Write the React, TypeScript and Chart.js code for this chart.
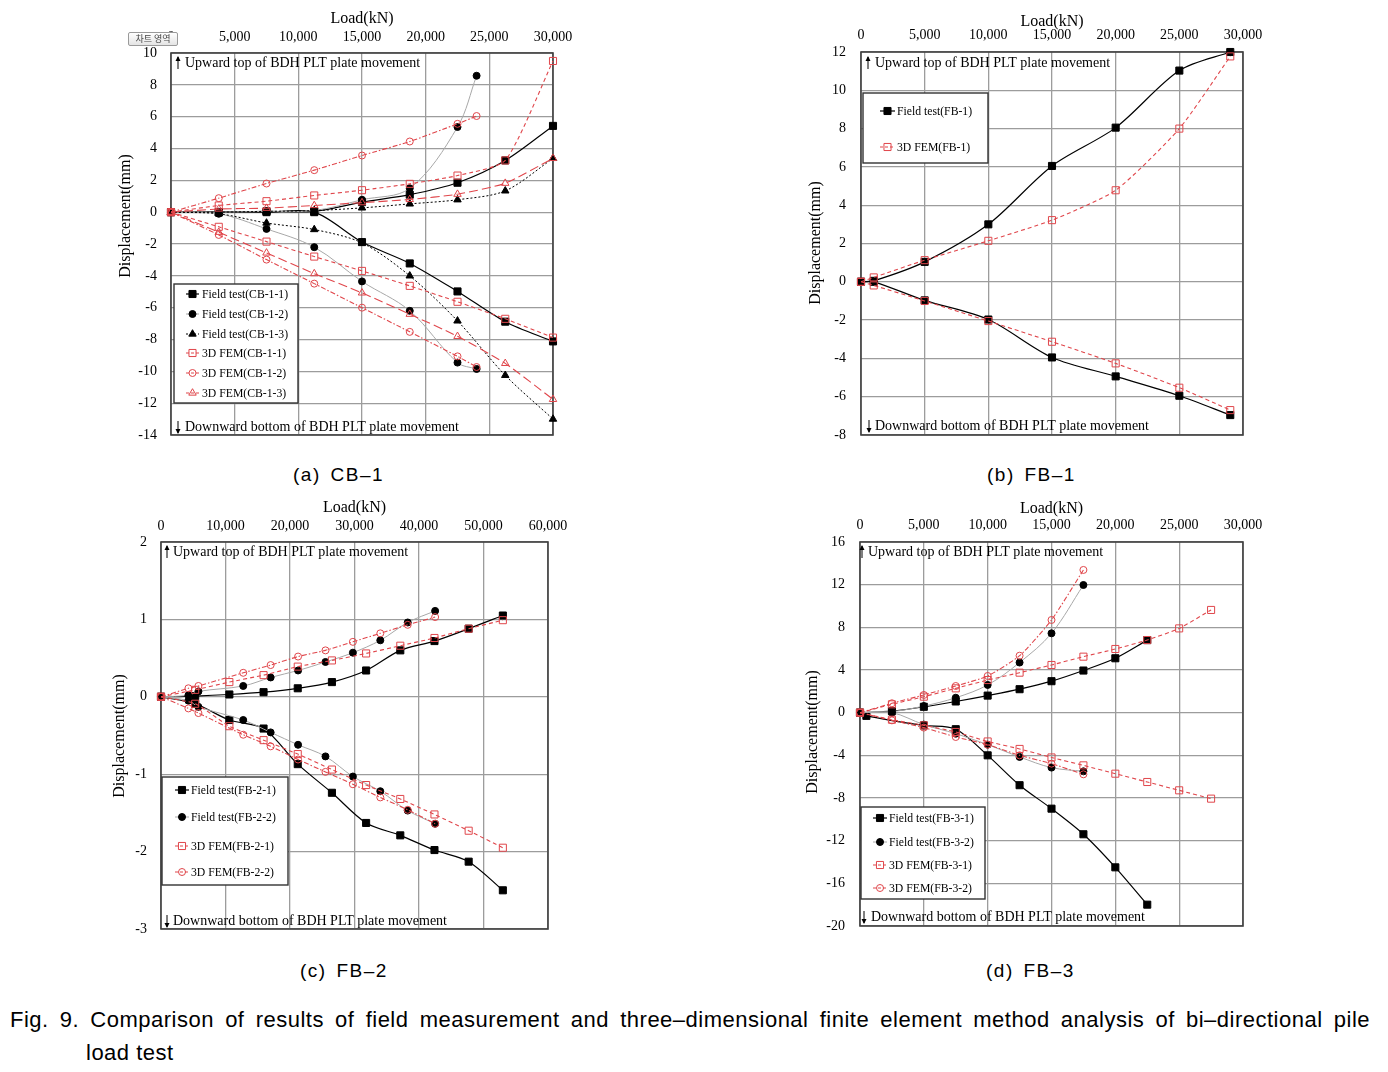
import React, { useEffect, useRef } from 'react';
import { Chart, registerables } from 'chart.js';

Chart.register(...registerables);

const SERIF = "'Liberation Serif', 'Times New Roman', serif";
const SANS = "'Liberation Sans', Arial, sans-serif";
const RED = '#e0464b';

// ---------- (a) CB-1 ----------
const loadA = [0, 3750, 7500, 11250, 15000, 18750, 22500, 26250, 30000];
const loadA2 = [0, 3750, 7500, 11250, 15000, 18750, 22500, 24000];
const cb11Up = [0, 0, 0.05, 0.05, 0.63, 1.1, 1.85, 3.25, 5.42];
const cb11Down = [0, 0, 0, 0, -1.88, -3.22, -4.98, -6.88, -8.12];
const cb12Up = [0, 0, 0.05, 0.1, 0.78, 1.5, 5.35, 8.57];
const cb12Down = [0, -0.1, -1.05, -2.2, -4.35, -6.2, -9.45, -9.85];
const cb13Up = [0, 0, 0.05, 0.1, 0.27, 0.52, 0.78, 1.34, 3.38];
const cb13Down = [0, -0.1, -0.68, -1.09, -1.93, -4.0, -6.83, -10.25, -13.0];
const femA1Up = [0, 0.42, 0.69, 1.05, 1.38, 1.78, 2.3, 3.25, 9.5];
const femA1Down = [0, -0.92, -1.85, -2.79, -3.69, -4.63, -5.63, -6.7, -7.88];
const femA2Up = [0, 0.88, 1.8, 2.64, 3.56, 4.44, 5.55, 6.04];
const femA2Down = [0, -1.43, -2.98, -4.49, -6.0, -7.52, -9.06, -9.73];
const femA3Up = [0, 0.2, 0.25, 0.42, 0.6, 0.8, 1.13, 1.82, 3.38];
const femA3Down = [0, -1.26, -2.56, -3.86, -5.07, -6.41, -7.8, -9.5, -11.76];

// ---------- (b) FB-1 ----------
const loadB = [0, 1000, 5000, 10000, 15000, 20000, 25000, 29000];
const fb1Up = [0, 0.05, 1.04, 3.0, 6.05, 8.05, 11.03, 12.0];
const fb1Down = [0, 0, -0.97, -1.97, -3.95, -4.94, -5.95, -6.96];
const femB1Up = [0, 0.23, 1.13, 2.14, 3.22, 4.78, 8.0, 11.77];
const femB1Down = [0, -0.19, -1.0, -2.05, -3.13, -4.26, -5.53, -6.7];

// ---------- (c) FB-2 ----------
const loadC1 = [0, 5300, 10600, 15900, 21200, 26500, 31800, 37100, 42400, 47700, 53000];
const loadC2 = [0, 4250, 5800, 12750, 17000, 21250, 25500, 29750, 34000, 38250, 42500];
const fb21Up = [0, 0.01, 0.03, 0.06, 0.11, 0.19, 0.34, 0.6, 0.72, 0.88, 1.05];
const fb21Down = [0, -0.09, -0.3, -0.41, -0.87, -1.24, -1.63, -1.79, -1.98, -2.13, -2.5];
const fb22Up = [0, 0.02, 0.07, 0.14, 0.25, 0.34, 0.45, 0.57, 0.73, 0.96, 1.11];
const fb22Down = [0, -0.05, -0.13, -0.3, -0.46, -0.62, -0.77, -1.03, -1.22, -1.47, -1.64];
const femC1Up = [0, 0.09, 0.19, 0.28, 0.39, 0.47, 0.56, 0.66, 0.76, 0.88, 0.99];
const femC1Down = [0, -0.09, -0.38, -0.56, -0.74, -0.94, -1.14, -1.32, -1.52, -1.73, -1.95];
const femC2Up = [0, 0.11, 0.14, 0.31, 0.41, 0.52, 0.6, 0.71, 0.82, 0.93, 1.03];
const femC2Down = [0, -0.15, -0.21, -0.49, -0.64, -0.81, -0.97, -1.13, -1.3, -1.46, -1.64];

// ---------- (d) FB-3 ----------
const loadD1 = [0, 2500, 5000, 7500, 10000, 12500, 15000, 17500, 20000, 22500];
const loadD1Down = [0, 500, 5000, 7500, 10000, 12500, 15000, 17500, 20000, 22500];
const loadD2 = [0, 2500, 5000, 7500, 10000, 12500, 15000, 17500];
const loadD3 = [0, 2500, 5000, 7500, 10000, 12500, 15000, 17500, 20000, 22500, 25000, 27500];
const fb31Up = [0, 0.15, 0.55, 1.05, 1.6, 2.2, 2.95, 3.95, 5.1, 6.8];
const fb31Down = [0, -0.3, -1.2, -1.55, -4.0, -6.8, -9.0, -11.4, -14.5, -18.0];
const fb32Up = [0, 0.1, 0.62, 1.4, 2.6, 4.7, 7.44, 11.97];
const fb32Down = [0, 0, -1.12, -1.97, -3.0, -4.15, -5.15, -5.5];
const femD1Up = [0, 0.78, 1.5, 2.28, 3.06, 3.75, 4.47, 5.25, 5.97, 6.81, 7.9, 9.63];
const femD1Down = [0, -0.66, -1.19, -1.81, -2.7, -3.4, -4.2, -4.94, -5.72, -6.5, -7.28, -8.06];
const femD2Up = [0, 0.88, 1.66, 2.5, 3.44, 5.34, 8.69, 13.38];
const femD2Down = [0, -0.72, -1.4, -2.28, -3.0, -4.0, -4.78, -5.78];

type Kind = 'f1' | 'f2' | 'f3' | 'm1' | 'm2' | 'm3';

const STYLES: Record<Kind, any> = {
  f1: { line: '#000000', width: 1.2, dash: [], point: 'rect', r: 5, fill: '#000000', stroke: '#000000', tension: 0.3 },
  f2: { line: '#a8a8a8', width: 1, dash: [], point: 'circle', r: 3.5, fill: '#000000', stroke: '#000000', tension: 0.35 },
  f3: { line: '#000000', width: 1, dash: [2, 2], point: 'triangle', r: 4.3, fill: '#000000', stroke: '#000000', tension: 0.3 },
  m1: { line: RED, width: 1.1, dash: [4, 3], point: 'rect', r: 5, fill: 'rgba(255,255,255,0)', stroke: RED, tension: 0.2 },
  m2: { line: RED, width: 1.1, dash: [5, 2, 1.5, 2], point: 'circle', r: 3.5, fill: 'rgba(255,255,255,0)', stroke: RED, tension: 0.2 },
  m3: { line: RED, width: 1.1, dash: [9, 4], point: 'triangle', r: 4.3, fill: 'rgba(255,255,255,0)', stroke: RED, tension: 0.2 },
};

interface Ser { label: string; kind: Kind; xUp: number[]; up: number[]; xDown: number[]; down: number[] }

const panels: any[] = [
  {
    key: 'a',
    canvas: { left: 95, top: 0, w: 490, h: 450 },
    area: { l: 171, t: 53, r: 553, b: 435 },
    x: { max: 30000, step: 5000, tickPad: 7.5, titlePad: 9.4 },
    y: { min: -14, max: 10, step: 2, tickPad: 14 },
    yTitle: { x: 126, y: 216 },
    up: { ax: 178, tx: 185, y: 63 },
    down: { ax: 178, tx: 185, y: 427 },
    legend: { l: 174, t: 284, r: 298, b: 403, rows: [294, 314, 334, 353, 373, 393], s0: 186, s1: 199, m: 192.5, tx: 202 },
    series: [
      { label: 'Field test(CB-1-1)', kind: 'f1', xUp: loadA, up: cb11Up, xDown: loadA, down: cb11Down },
      { label: 'Field test(CB-1-2)', kind: 'f2', xUp: loadA2, up: cb12Up, xDown: loadA2, down: cb12Down },
      { label: 'Field test(CB-1-3)', kind: 'f3', xUp: loadA, up: cb13Up, xDown: loadA, down: cb13Down },
      { label: '3D FEM(CB-1-1)', kind: 'm1', xUp: loadA, up: femA1Up, xDown: loadA, down: femA1Down },
      { label: '3D FEM(CB-1-2)', kind: 'm2', xUp: loadA2, up: femA2Up, xDown: loadA2, down: femA2Down },
      { label: '3D FEM(CB-1-3)', kind: 'm3', xUp: loadA, up: femA3Up, xDown: loadA, down: femA3Down },
    ] as Ser[],
  },
  {
    key: 'b',
    canvas: { left: 790, top: 0, w: 485, h: 450 },
    area: { l: 861, t: 52, r: 1243, b: 435 },
    x: { max: 30000, step: 5000, tickPad: 8.5, titlePad: 12.4 },
    y: { min: -8, max: 12, step: 2, tickPad: 15 },
    yTitle: { x: 816, y: 243 },
    up: { ax: 868, tx: 875, y: 63 },
    down: { ax: 869, tx: 875, y: 426 },
    legend: { l: 863, t: 93, r: 988, b: 163, rows: [111, 147], s0: 880, s1: 895, m: 887.5, tx: 897 },
    series: [
      { label: 'Field test(FB-1)', kind: 'f1', xUp: loadB, up: fb1Up, xDown: loadB, down: fb1Down },
      { label: '3D FEM(FB-1)', kind: 'm1', xUp: loadB, up: femB1Up, xDown: loadB, down: femB1Down },
    ] as Ser[],
  },
  {
    key: 'c',
    canvas: { left: 95, top: 490, w: 490, h: 450 },
    area: { l: 161, t: 542, r: 548, b: 929 },
    x: { max: 60000, step: 10000, tickPad: 7.5, titlePad: 8.4 },
    y: { min: -3, max: 2, step: 1, tickPad: 14 },
    yTitle: { x: 120, y: 736 },
    up: { ax: 167, tx: 173, y: 552 },
    down: { ax: 167, tx: 173, y: 921 },
    legend: { l: 162, t: 777, r: 288, b: 885, rows: [790, 817, 846, 872], s0: 175, s1: 189, m: 182, tx: 191 },
    series: [
      { label: 'Field test(FB-2-1)', kind: 'f1', xUp: loadC1, up: fb21Up, xDown: loadC1, down: fb21Down },
      { label: 'Field test(FB-2-2)', kind: 'f2', xUp: loadC2, up: fb22Up, xDown: loadC2, down: fb22Down },
      { label: '3D FEM(FB-2-1)', kind: 'm1', xUp: loadC1, up: femC1Up, xDown: loadC1, down: femC1Down },
      { label: '3D FEM(FB-2-2)', kind: 'm2', xUp: loadC2, up: femC2Up, xDown: loadC2, down: femC2Down },
    ] as Ser[],
  },
  {
    key: 'd',
    canvas: { left: 790, top: 490, w: 485, h: 450 },
    area: { l: 860, t: 542, r: 1243, b: 926 },
    x: { max: 30000, step: 5000, tickPad: 8.5, titlePad: 9.4 },
    y: { min: -20, max: 16, step: 4, tickPad: 15 },
    yTitle: { x: 813, y: 732 },
    up: { ax: 862, tx: 868, y: 552 },
    down: { ax: 864, tx: 871, y: 917 },
    legend: { l: 861, t: 807, r: 985, b: 899, rows: [818, 842, 865, 888], s0: 873, s1: 887, m: 880, tx: 889 },
    series: [
      { label: 'Field test(FB-3-1)', kind: 'f1', xUp: loadD1, up: fb31Up, xDown: loadD1Down, down: fb31Down },
      { label: 'Field test(FB-3-2)', kind: 'f2', xUp: loadD2, up: fb32Up, xDown: loadD2, down: fb32Down },
      { label: '3D FEM(FB-3-1)', kind: 'm1', xUp: loadD3, up: femD1Up, xDown: loadD3, down: femD1Down },
      { label: '3D FEM(FB-3-2)', kind: 'm2', xUp: loadD2, up: femD2Up, xDown: loadD2, down: femD2Down },
    ] as Ser[],
  },
];

function drawMarker(ctx: CanvasRenderingContext2D, st: any, x: number, y: number) {
  const r = st.r;
  ctx.beginPath();
  if (st.point === 'rect') {
    const s = Math.SQRT1_2 * r;
    ctx.rect(x - s, y - s, 2 * s, 2 * s);
  } else if (st.point === 'circle') {
    ctx.arc(x, y, r, 0, Math.PI * 2);
  } else {
    let rad = 0;
    ctx.moveTo(x + Math.sin(rad) * r, y - Math.cos(rad) * r);
    rad += (2 * Math.PI) / 3;
    ctx.lineTo(x + Math.sin(rad) * r, y - Math.cos(rad) * r);
    rad += (2 * Math.PI) / 3;
    ctx.lineTo(x + Math.sin(rad) * r, y - Math.cos(rad) * r);
    ctx.closePath();
  }
  ctx.fillStyle = st.fill;
  ctx.fill();
  ctx.lineWidth = 1;
  ctx.setLineDash([]);
  ctx.strokeStyle = st.stroke;
  ctx.stroke();
}

function drawArrow(ctx: CanvasRenderingContext2D, x: number, y: number, up: boolean) {
  ctx.save();
  ctx.strokeStyle = '#000';
  ctx.fillStyle = '#000';
  ctx.lineWidth = 1;
  ctx.beginPath();
  ctx.moveTo(x, y - 6);
  ctx.lineTo(x, y + 6);
  ctx.stroke();
  ctx.beginPath();
  if (up) {
    ctx.moveTo(x, y - 7);
    ctx.lineTo(x - 2.5, y - 2);
    ctx.lineTo(x + 2.5, y - 2);
  } else {
    ctx.moveTo(x, y + 7);
    ctx.lineTo(x - 2.5, y + 2);
    ctx.lineTo(x + 2.5, y + 2);
  }
  ctx.closePath();
  ctx.fill();
  ctx.restore();
}

function makeDeco(p: any) {
  const ox = p.canvas.left;
  const oy = p.canvas.top;
  return {
    id: 'deco_' + p.key,
    beforeDatasetsDraw(chart: any) {
      const { ctx, chartArea: a } = chart;
      ctx.save();
      ctx.strokeStyle = '#404040';
      ctx.lineWidth = 1.6;
      ctx.strokeRect(a.left, a.top, a.right - a.left, a.bottom - a.top);
      ctx.fillStyle = '#000';
      ctx.font = `14px ${SERIF}`;
      ctx.textBaseline = 'middle';
      ctx.textAlign = 'left';
      drawArrow(ctx, p.up.ax - ox, p.up.y - oy, true);
      ctx.fillText('Upward top of BDH PLT plate movement', p.up.tx - ox, p.up.y - oy + 0.5);
      drawArrow(ctx, p.down.ax - ox, p.down.y - oy, false);
      ctx.fillText('Downward bottom of BDH PLT plate movement', p.down.tx - ox, p.down.y - oy + 0.5);
      ctx.restore();
    },
    afterDatasetsDraw(chart: any) {
      const { ctx } = chart;
      const L = p.legend;
      ctx.save();
      ctx.fillStyle = '#ffffff';
      ctx.fillRect(L.l - ox, L.t - oy, L.r - L.l, L.b - L.t);
      ctx.strokeStyle = '#333333';
      ctx.lineWidth = 1.4;
      ctx.strokeRect(L.l - ox, L.t - oy, L.r - L.l, L.b - L.t);
      p.series.forEach((s: Ser, i: number) => {
        const st = STYLES[s.kind];
        const y = L.rows[i] - oy;
        ctx.beginPath();
        ctx.strokeStyle = st.line;
        ctx.lineWidth = st.width;
        ctx.setLineDash(st.dash.length ? [Math.min(st.dash[0], 3), 2] : []);
        ctx.moveTo(L.s0 - ox, y);
        ctx.lineTo(L.s1 - ox, y);
        ctx.stroke();
        drawMarker(ctx, st, L.m - ox, y);
        ctx.save();
        ctx.translate(L.tx - ox, y + 0.5);
        ctx.scale(0.9, 1);
        ctx.fillStyle = '#000';
        ctx.font = `13px ${SERIF}`;
        ctx.textBaseline = 'middle';
        ctx.textAlign = 'left';
        ctx.fillText(s.label, 0, 0);
        ctx.restore();
      });
      ctx.restore();
    },
    afterDraw(chart: any) {
      const { ctx } = chart;
      ctx.save();
      ctx.translate(p.yTitle.x - ox, p.yTitle.y - oy);
      ctx.rotate(-Math.PI / 2);
      ctx.fillStyle = '#000';
      ctx.font = `16px ${SERIF}`;
      ctx.textAlign = 'center';
      ctx.textBaseline = 'middle';
      ctx.fillText('Displacement(mm)', 0, 0);
      ctx.restore();
    },
  };
}

function buildDatasets(series: Ser[]) {
  const ds: any[] = [];
  const ordered = [...series].reverse();
  for (const s of ordered) {
    const st = STYLES[s.kind];
    const branches: [number[], number[]][] = [[s.xUp, s.up], [s.xDown, s.down]];
    for (const [xs, ys] of branches) {
      ds.push({
        label: s.label,
        data: ys.map((y, i) => ({ x: xs[i], y })),
        borderColor: st.line,
        borderWidth: st.width,
        borderDash: st.dash,
        pointStyle: st.point,
        pointRadius: st.r,
        pointBackgroundColor: st.fill,
        pointBorderColor: st.stroke,
        pointBorderWidth: 1,
        tension: st.tension,
        fill: false,
        clip: false,
      });
    }
  }
  return ds;
}

function PanelChart({ p }: { p: any }) {
  const ref = useRef<HTMLCanvasElement | null>(null);
  useEffect(() => {
    if (!ref.current) return;
    const c = p.canvas;
    const a = p.area;
    const yWidth = a.l - c.left;
    const xHeight = a.t - c.top;
    const padRight = c.left + c.w - a.r;
    const padBottom = c.top + c.h - a.b;
    const chart = new Chart(ref.current, {
      type: 'line',
      data: { datasets: buildDatasets(p.series) },
      options: {
        responsive: false,
        animation: false,
        devicePixelRatio: 1,
        layout: { padding: { left: 0, top: 0, right: padRight, bottom: padBottom }, autoPadding: false },
        plugins: { legend: { display: false }, tooltip: { enabled: false } },
        font: { family: SERIF },
        scales: {
          x: {
            type: 'linear',
            position: 'top',
            min: 0,
            max: p.x.max,
            afterBuildTicks: (scale: any) => {
              const t = [];
              for (let v = 0; v <= p.x.max; v += p.x.step) t.push({ value: v });
              scale.ticks = t;
            },
            grid: { color: '#9c9c9c', lineWidth: 1.3, drawTicks: false },
            border: { display: false },
            ticks: {
              padding: p.x.tickPad,
              maxRotation: 0,
              color: '#000',
              font: { family: SERIF, size: 14 },
              callback: (v: any) => Number(v).toLocaleString('en-US'),
            },
            title: {
              display: true,
              text: 'Load(kN)',
              color: '#000',
              font: { family: SERIF, size: 16 },
              padding: { top: p.x.titlePad, bottom: 0 },
            },
            afterFit: (s: any) => {
              s.height = xHeight;
              s.paddingLeft = 0;
              s.paddingRight = 0;
            },
          },
          y: {
            type: 'linear',
            position: 'left',
            min: p.y.min,
            max: p.y.max,
            afterBuildTicks: (scale: any) => {
              const t = [];
              for (let v = p.y.min; v <= p.y.max + 1e-9; v += p.y.step) t.push({ value: v });
              scale.ticks = t;
            },
            grid: { color: '#9c9c9c', lineWidth: 1.3, drawTicks: false },
            border: { display: false },
            ticks: {
              padding: p.y.tickPad,
              color: '#000',
              font: { family: SERIF, size: 14 },
              callback: (v: any) => String(v),
            },
            afterFit: (s: any) => {
              s.width = yWidth;
              s.paddingTop = 0;
              s.paddingBottom = 0;
            },
          },
        },
      },
      plugins: [makeDeco(p)],
    } as any);
    return () => chart.destroy();
  }, [p]);
  const c = p.canvas;
  return (
    <canvas
      ref={ref}
      width={c.w}
      height={c.h}
      style={{ position: 'absolute', left: c.left, top: c.top, width: c.w, height: c.h }}
    />
  );
}

const subCaptions = [
  { text: '(a) CB–1', left: 293, top: 465 },
  { text: '(b) FB–1', left: 987, top: 465 },
  { text: '(c) FB–2', left: 300, top: 961 },
  { text: '(d) FB–3', left: 986, top: 961 },
];

const captionLine1 =
  'Fig. 9. Comparison of results of field measurement and three–dimensional finite element method analysis of bi–directional pile';
const captionLine2 = 'load test';

export default function App() {
  return (
    <div style={{ position: 'absolute', left: 0, top: 0, width: 1388, height: 1072, background: '#ffffff', overflow: 'hidden' }}>
      {panels.map((p) => (
        <PanelChart key={p.key} p={p} />
      ))}
      <div
        style={{
          position: 'absolute',
          left: 128,
          top: 32,
          width: 48,
          height: 12,
          border: '1px solid #9a9a9a',
          borderRadius: 2,
          background: 'linear-gradient(#ffffff, #e4e4e4)',
          fontFamily: "'Noto Sans CJK KR', sans-serif",
          fontSize: 9,
          lineHeight: '12px',
          textAlign: 'center',
          color: '#444',
        }}
      >
        차트 영역
      </div>
      {subCaptions.map((s) => (
        <div
          key={s.text}
          style={{
            position: 'absolute',
            left: s.left,
            top: s.top,
            fontFamily: SANS,
            fontSize: 19,
            lineHeight: '19px',
            whiteSpace: 'pre',
            color: '#000',
            letterSpacing: 1.5,
            wordSpacing: 3,
          }}
        >
          {s.text}
        </div>
      ))}
      <div
        style={{
          position: 'absolute',
          left: 10,
          top: 1009,
          width: 1360,
          fontFamily: SANS,
          fontSize: 22,
          lineHeight: '22px',
          letterSpacing: 0.5,
          textAlign: 'justify',
          textAlignLast: 'justify' as any,
          color: '#000',
        }}
      >
        {captionLine1}
      </div>
      <div
        style={{ position: 'absolute', left: 86, top: 1042, fontFamily: SANS, fontSize: 22, lineHeight: '22px', letterSpacing: 0.5, color: '#000' }}
      >
        {captionLine2}
      </div>
    </div>
  );
}
